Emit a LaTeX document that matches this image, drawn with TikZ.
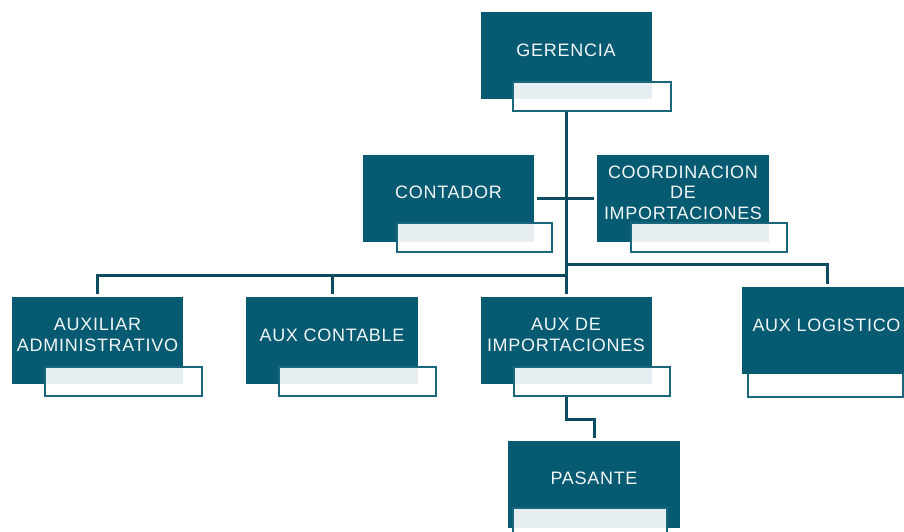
\documentclass[tikz,border=0pt]{standalone}
\usepackage{fontspec}
\newfontfamily\boxfont{Liberation Sans}[LetterSpace=4]
\definecolor{dark}{RGB}{6,91,114}
\definecolor{linec}{RGB}{12,76,96}
\definecolor{wborder}{RGB}{26,102,124}
\definecolor{txt}{RGB}{242,246,247}
\tikzset{
  darkbox/.style={rectangle, fill=dark, inner sep=0pt, minimum width=171pt, minimum height=87pt},
  whitebox/.style={rectangle, draw=wborder, line width=2pt, fill=white, fill opacity=0.9, draw opacity=1, inner sep=0pt, minimum width=157pt, minimum height=29pt},
  lbl/.style={text=txt, font=\boxfont\fontsize{18}{20.5}\selectfont, align=center, inner sep=0pt},
  conn/.style={draw=linec, line width=3pt},
}
\begin{document}
\begin{tikzpicture}[x=1pt, y=-1pt]
\fill[white] (0,0) rectangle (904,531);
\useasboundingbox (0,0) rectangle (904,531);

% AUX LOGISTICO white box lies behind its dark box
\node[whitebox, fill opacity=1, minimum width=155pt, minimum height=38pt] (logw) at (825,378) {};

% dark boxes
\node[darkbox] (ger) at (566,55) {};
\node[darkbox] (cont) at (448.5,198.5) {};
\node[darkbox, minimum width=172pt] (coord) at (683,198.5) {};
\node[darkbox] (adm) at (97.5,340.5) {};
\node[darkbox, minimum width=172pt] (acont) at (332,340.5) {};
\node[darkbox] (aimp) at (566,340.5) {};
\node[darkbox] (alog) at (827.5,330.5) {};
\node[darkbox, minimum width=172pt] (pas) at (594,484.5) {};

% white boxes
\node[whitebox, minimum width=158pt] (gerw) at (592,96) {};
\node[whitebox, minimum width=155pt] (contw) at (474.5,237.5) {};
\node[whitebox, minimum width=156pt] (coordw) at (709,237.5) {};
\node[whitebox] (admw) at (123.5,381.5) {};
\node[whitebox] (acontw) at (357.5,381.5) {};
\node[whitebox, minimum width=156pt] (aimpw) at (592,381.5) {};
\node[whitebox, minimum width=154pt, minimum height=40pt] (pasw) at (590,528) {};

% labels
\node[lbl] (ger-t) at ([yshift=5pt]ger.center) {GERENCIA};
\node[lbl] (cont-t) at ([yshift=5.8pt]cont.center) {CONTADOR};
\node[lbl] (coord-t) at ([yshift=6pt]coord.center) {COORDINACION\\DE\\IMPORTACIONES};
\node[lbl] (adm-t) at ([yshift=5.5pt]adm.center) {AUXILIAR\\ADMINISTRATIVO};
\node[lbl] (acont-t) at ([yshift=5.5pt]acont.center) {AUX CONTABLE};
\node[lbl] (aimp-t) at ([yshift=5.5pt]aimp.center) {AUX DE\\IMPORTACIONES};
\node[lbl] (alog-t) at ([yshift=5.5pt, xshift=-1pt]alog.center) {AUX LOGISTICO};
\node[lbl] (pas-t) at ([yshift=6.5pt]pas.center) {PASANTE};

% connectors
\coordinate (busL) at (566,275);
\coordinate (busR) at (566,264);
\draw[conn] (ger.center |- gerw.south) -- ([yshift=3pt]aimp.north);
\draw[conn] ([xshift=3pt]cont.east) -- ([xshift=-3pt]coord.west);
\draw[conn] (busL) -| ([yshift=3pt]adm.north);
\draw[conn] (acont.north |- busL) -- ([yshift=3pt]acont.north);
\draw[conn] (busR) -| ([yshift=3pt]alog.north);
\draw[conn] (aimp.center |- aimpw.south) -- ++(0,22) -| ([yshift=3pt]pas.north);
\end{tikzpicture}
\end{document}
